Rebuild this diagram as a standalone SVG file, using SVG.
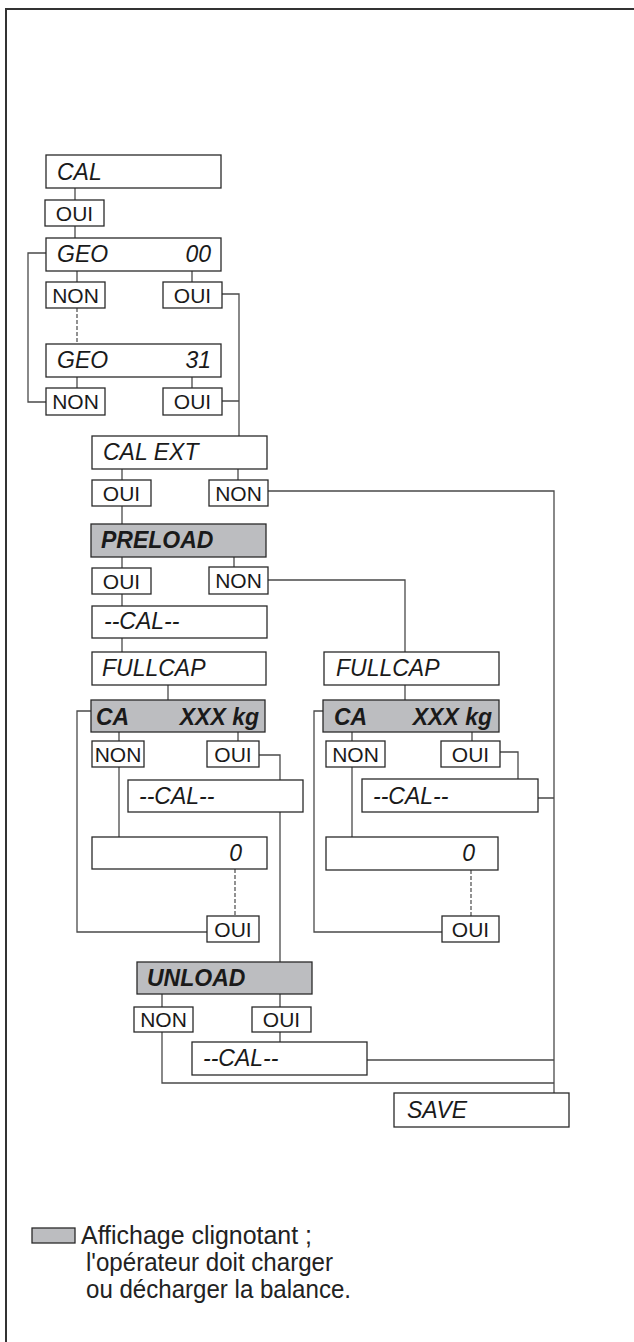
<svg xmlns="http://www.w3.org/2000/svg" width="634" height="1342" viewBox="0 0 634 1342">
<style>
.b{fill:#fff;stroke:#2a2a2a;stroke-width:1.3}
.g{fill:#bcbdc0;stroke:#2a2a2a;stroke-width:1.3}
.c{fill:none;stroke:#4a4a4a;stroke-width:1.3}
.d{fill:none;stroke:#4a4a4a;stroke-width:1.2;stroke-dasharray:4 2}
.t{font-family:"Liberation Sans",Arial,sans-serif;font-style:italic;font-size:23px;fill:#1a1a1a}
.tb{font-family:"Liberation Sans",Arial,sans-serif;font-style:italic;font-weight:bold;font-size:23px;fill:#1a1a1a}
.k{font-family:"Liberation Sans",Arial,sans-serif;font-size:21px;fill:#1a1a1a;text-anchor:middle}
.l{font-family:"Liberation Sans",Arial,sans-serif;font-size:25px;fill:#222}
</style>
<rect width="634" height="1342" fill="#fff"/>
<path d="M6,1342 V9 H634" fill="none" stroke="#333" stroke-width="2"/>

<g id="connectors">
<path class="c" d="M75,188V200M75,226V238M77,271V282M192,271V282M77,377V388M192,377V388"/>
<path class="d" d="M77,308V344"/>
<path class="c" d="M46,253H28V402H46"/>
<path class="c" d="M222,294H239V436M222,401H239"/>
<path class="c" d="M122,469V480M238,469V480"/>
<path class="c" d="M268,491H554V1093"/>
<path class="c" d="M122,506V524M122,557V568M234,557V567"/>
<path class="c" d="M268,580H405V652"/>
<path class="c" d="M122,594V606M122,638V652"/>
<path class="c" d="M168,685V700M405,685V700"/>
<path class="c" d="M119,732V741M238,732V741"/>
<path class="c" d="M259,755H280V780M280,812V962"/>
<path class="c" d="M119,767V837"/>
<path class="d" d="M235,869V916"/>
<path class="c" d="M91,711H77V932H207"/>
<path class="c" d="M352,732V741M472,732V741"/>
<path class="c" d="M500,752H518V779M538,798H554"/>
<path class="c" d="M352,767V837"/>
<path class="d" d="M471,870V916"/>
<path class="c" d="M323,711H314V932H442"/>
<path class="c" d="M162,994V1007M280,994V1007M280,1032V1042"/>
<path class="c" d="M367,1060H554M162,1032V1083H554"/>
</g>

<g id="n-cal"><rect class="b" x="46" y="155" width="175" height="33"/><text class="t" x="57" y="180">CAL</text></g>
<g id="n-cal-oui"><rect class="b" x="45" y="200" width="59" height="26"/><text class="k" x="74.5" y="221">OUI</text></g>
<g id="n-geo00"><rect class="b" x="46" y="238" width="175" height="33"/><text class="t" x="57" y="262">GEO</text><text class="t" x="211" y="262" text-anchor="end">00</text></g>
<g id="n-geo00-non"><rect class="b" x="46" y="282" width="59" height="26"/><text class="k" x="75.5" y="303">NON</text></g>
<g id="n-geo00-oui"><rect class="b" x="163" y="282" width="59" height="26"/><text class="k" x="192.5" y="303">OUI</text></g>
<g id="n-geo31"><rect class="b" x="46" y="344" width="175" height="33"/><text class="t" x="57" y="368">GEO</text><text class="t" x="211" y="368" text-anchor="end">31</text></g>
<g id="n-geo31-non"><rect class="b" x="46" y="388" width="59" height="27"/><text class="k" x="75.5" y="409">NON</text></g>
<g id="n-geo31-oui"><rect class="b" x="163" y="388" width="59" height="27"/><text class="k" x="192.5" y="409">OUI</text></g>

<g id="n-calext"><rect class="b" x="92" y="436" width="175" height="33"/><text class="t" x="103" y="460">CAL EXT</text></g>
<g id="n-calext-oui"><rect class="b" x="92" y="480" width="59" height="26"/><text class="k" x="121.5" y="501">OUI</text></g>
<g id="n-calext-non"><rect class="b" x="209" y="480" width="59" height="26"/><text class="k" x="238.5" y="501">NON</text></g>

<g id="n-preload"><rect class="g" x="91" y="524" width="175" height="33"/><text class="tb" x="101" y="548">PRELOAD</text></g>
<g id="n-preload-oui"><rect class="b" x="92" y="568" width="59" height="26"/><text class="k" x="121.5" y="589">OUI</text></g>
<g id="n-preload-non"><rect class="b" x="209" y="567" width="59" height="27"/><text class="k" x="238.5" y="588">NON</text></g>

<g id="n-cal1"><rect class="b" x="92" y="606" width="175" height="32"/><text class="t" x="104" y="629">--CAL--</text></g>
<g id="n-fullcap1"><rect class="b" x="92" y="652" width="174" height="33"/><text class="t" x="102" y="676">FULLCAP</text></g>
<g id="n-ca1"><rect class="g" x="91" y="700" width="174" height="32"/><text class="tb" x="96" y="725">CA</text><text class="tb" x="259" y="725" text-anchor="end">XXX kg</text></g>
<g id="n-ca1-non"><rect class="b" x="92" y="741" width="52" height="26"/><text class="k" x="118" y="762">NON</text></g>
<g id="n-ca1-oui"><rect class="b" x="207" y="741" width="52" height="26"/><text class="k" x="233" y="762">OUI</text></g>
<g id="n-cal2"><rect class="b" x="128" y="780" width="175" height="32"/><text class="t" x="139" y="804">--CAL--</text></g>
<g id="n-zero1"><rect class="b" x="92" y="837" width="175" height="32"/><text class="t" x="242" y="861" text-anchor="end">0</text></g>
<g id="n-zero1-oui"><rect class="b" x="207" y="916" width="52" height="26"/><text class="k" x="233" y="937">OUI</text></g>

<g id="n-fullcap2"><rect class="b" x="324" y="652" width="175" height="33"/><text class="t" x="336" y="676">FULLCAP</text></g>
<g id="n-ca2"><rect class="g" x="323" y="700" width="176" height="32"/><text class="tb" x="334" y="725">CA</text><text class="tb" x="492" y="725" text-anchor="end">XXX kg</text></g>
<g id="n-ca2-non"><rect class="b" x="326" y="741" width="59" height="26"/><text class="k" x="355.5" y="762">NON</text></g>
<g id="n-ca2-oui"><rect class="b" x="441" y="741" width="59" height="26"/><text class="k" x="470.5" y="762">OUI</text></g>
<g id="n-cal3"><rect class="b" x="362" y="779" width="176" height="33"/><text class="t" x="373" y="804">--CAL--</text></g>
<g id="n-zero2"><rect class="b" x="326" y="837" width="172" height="33"/><text class="t" x="475" y="861" text-anchor="end">0</text></g>
<g id="n-zero2-oui"><rect class="b" x="442" y="916" width="57" height="26"/><text class="k" x="470.5" y="937">OUI</text></g>

<g id="n-unload"><rect class="g" x="137" y="962" width="175" height="32"/><text class="tb" x="147" y="986">UNLOAD</text></g>
<g id="n-unload-non"><rect class="b" x="134" y="1007" width="59" height="25"/><text class="k" x="163.5" y="1027">NON</text></g>
<g id="n-unload-oui"><rect class="b" x="252" y="1007" width="59" height="25"/><text class="k" x="281.5" y="1027">OUI</text></g>
<g id="n-cal4"><rect class="b" x="192" y="1042" width="175" height="33"/><text class="t" x="203" y="1066">--CAL--</text></g>
<g id="n-save"><rect class="b" x="394" y="1093" width="175" height="34"/><text class="t" x="407" y="1118">SAVE</text></g>

<g id="legend">
<rect class="g" x="32" y="1228" width="43" height="15"/>
<text class="l" x="81" y="1244" textLength="231" lengthAdjust="spacingAndGlyphs">Affichage clignotant ;</text>
<text class="l" x="86" y="1271" textLength="247" lengthAdjust="spacingAndGlyphs">l'opérateur doit charger</text>
<text class="l" x="86" y="1298" textLength="265" lengthAdjust="spacingAndGlyphs">ou décharger la balance.</text>
</g>
</svg>
